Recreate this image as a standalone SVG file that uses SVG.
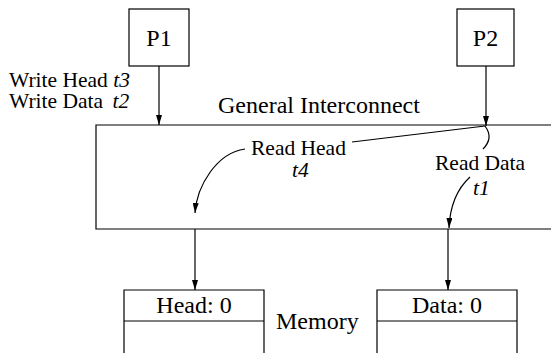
<svg xmlns="http://www.w3.org/2000/svg" width="551" height="353" viewBox="0 0 551 353">
<style>
text{font-family:"Liberation Serif","Times New Roman",serif;font-size:21.5px;fill:#000}
.big{font-size:24px}
.i{font-style:italic}
.ln{fill:none;stroke:#000;stroke-width:1.2}
.bx{fill:#fff;stroke:#000;stroke-width:1.2}
</style>
<defs>
<marker id="ah" viewBox="0 0 10 6" refX="10" refY="3" markerWidth="10" markerHeight="6" markerUnits="userSpaceOnUse" orient="auto">
<path d="M0,0L10,3L0,6Z" fill="#000"/>
</marker>
</defs>
<rect width="551" height="353" fill="#fff"/>
<g id="interconnect">
<path class="ln" d="M551,125H96V229H551" stroke="#444" stroke-width="1.5"/>
<text class="big" x="218" y="113">General Interconnect</text>
</g>
<g id="p1">
<rect class="bx" x="129" y="9" width="60" height="57"/>
<text class="big" x="159" y="46" text-anchor="middle">P1</text>
</g>
<g id="p2">
<rect class="bx" x="457" y="9" width="57" height="57"/>
<text class="big" x="485.5" y="46" text-anchor="middle">P2</text>
</g>
<g id="labels">
<text x="9" y="87">Write Head <tspan class="i">t3</tspan></text>
<text x="9" y="108">Write Data <tspan class="i" dx="4">t2</tspan></text>
<text x="251" y="155">Read Head</text>
<text class="i" x="292" y="177">t4</text>
<text x="435" y="170">Read Data</text>
<text class="i" x="473" y="195">t1</text>
<text class="big" x="276" y="329">Memory</text>
</g>
<g id="head-mem">
<path class="ln" d="M124,353V290H264V353M124,321H264"/>
<text class="big" x="194" y="313" text-anchor="middle">Head: 0</text>
</g>
<g id="data-mem">
<path class="ln" d="M377,353V290H517V353M377,321H517"/>
<text class="big" x="447" y="313" text-anchor="middle">Data: 0</text>
</g>
<g id="connectors">
<path class="ln" d="M159,66V125" marker-end="url(#ah)"/>
<path class="ln" d="M486,66V126" marker-end="url(#ah)"/>
<path class="ln" d="M352,142L485,126"/>
<path class="ln" d="M485,126C491,134 490,142 483,149"/>
<path class="ln" d="M245,149C217,153 197,185 195,213" marker-end="url(#ah)"/>
<path class="ln" d="M470,177C458,188 450,205 449,228" marker-end="url(#ah)"/>
<path class="ln" d="M195,229V290" marker-end="url(#ah)"/>
<path class="ln" d="M448,229V290" marker-end="url(#ah)"/>
</g>
</svg>
